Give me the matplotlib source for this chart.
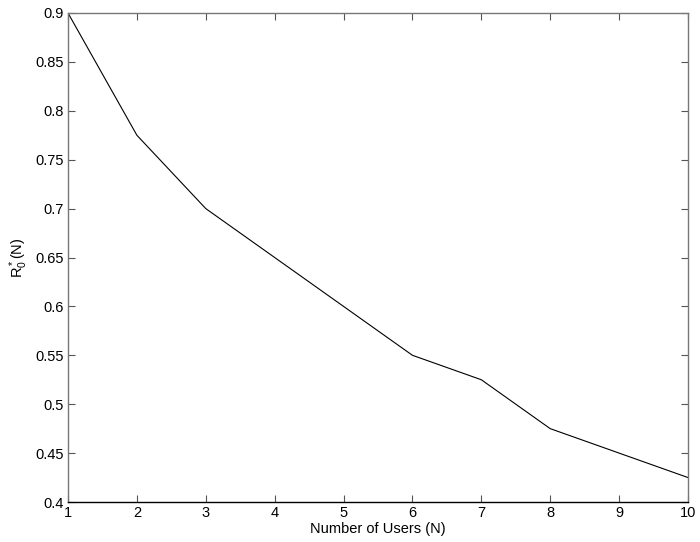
import matplotlib
matplotlib.use("Agg")
import matplotlib.pyplot as plt

plt.rcParams['font.family'] = ['Liberation Sans', 'DejaVu Sans']

users = [1, 2, 3, 4, 5, 6, 7, 8, 9, 10]
r0 = [0.9, 0.775, 0.7, 0.65, 0.6, 0.55, 0.525, 0.475, 0.45, 0.425]
xticks = list(range(1, 11))
yticks = [0.4, 0.45, 0.5, 0.55, 0.6, 0.65, 0.7, 0.75, 0.8, 0.85, 0.9]
ytick_labels = ['0.4', '0.45', '0.5', '0.55', '0.6', '0.65', '0.7', '0.75', '0.8', '0.85', '0.9']

fig = plt.figure(figsize=(7.0, 5.42), dpi=100)
ax = fig.add_axes([68/700, 1-502/542, 620/700, 489/542])
ax.plot(users, r0, color='black', linewidth=0.8)
ax.set_xlim(1, 10)
ax.set_ylim(0.4, 0.9)
ax.set_xticks(xticks)
ax.set_xticklabels([str(t) for t in xticks])
ax.set_yticks(yticks)
ax.set_yticklabels(ytick_labels)
ax.tick_params(direction='in', top=True, right=True, length=5, width=0.8,
               labelsize=10.5, colors='#555555', labelcolor='black', pad=3)
for s in ax.spines.values():
    s.set_color('#777777')
    s.set_linewidth(1.0)
ax.spines['bottom'].set_color('black')
ax.set_xlabel('Number of Users (N)', fontsize=10.5, labelpad=1)
ax.set_ylabel(r'$\mathregular{R_0^*(N)}$', fontsize=10.5, labelpad=4)
fig.savefig('out.png', dpi=100)
